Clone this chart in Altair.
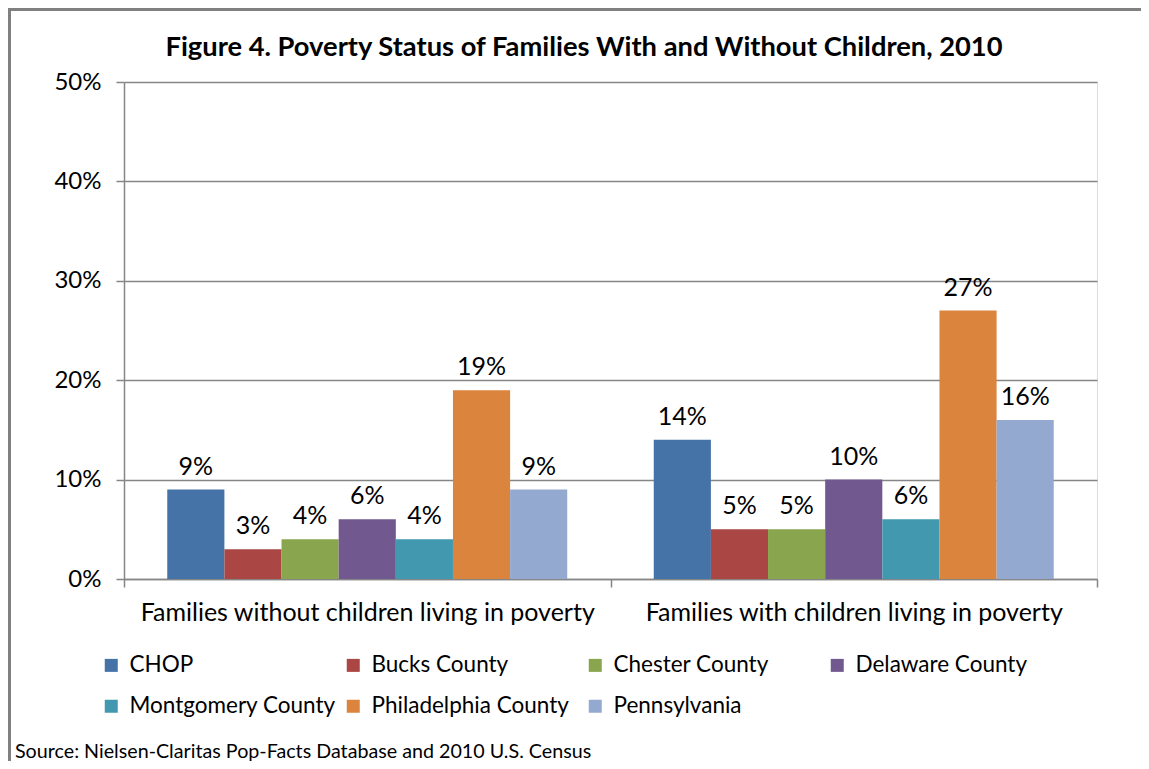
import altair as alt
import pandas as pd

groups = ["Families without children living in poverty", "Families with children living in poverty"]
series = ["CHOP", "Bucks County", "Chester County", "Delaware County",
          "Montgomery County", "Philadelphia County", "Pennsylvania"]
without_children = [0.09, 0.03, 0.04, 0.06, 0.04, 0.19, 0.09]
with_children = [0.14, 0.05, 0.05, 0.10, 0.06, 0.27, 0.16]
colors = ["#4572A7", "#AA4643", "#89A54E", "#71588F", "#4198AF", "#DB843D", "#93A9CF"]
y_ticks = [0, 0.1, 0.2, 0.3, 0.4, 0.5]
title_text = ["Figure 4. Poverty Status of Families With and Without Children, 2010"]
source_note = ["Source: Nielsen-Claritas Pop-Facts Database and 2010 U.S. Census"]

rows = []
for g, vals in zip(groups, [without_children, with_children]):
    for s, v in zip(series, vals):
        rows.append({"group": g, "series": s, "value": v})
df = pd.DataFrame(rows)

FONT = "Lato"
GRID = "#868686"

x_enc = alt.X("group:N", sort=groups,
              scale=alt.Scale(paddingInner=0, paddingOuter=0),
              axis=alt.Axis(title=None, labelAngle=0, tickBand="extent", tickSize=8,
                            tickColor=GRID, domainColor=GRID, domainWidth=1.5, tickWidth=1.5,
                            labelFont=FONT, labelFontSize=25, labelColor="black",
                            labelPadding=13, labelLimit=700))
xo_enc = alt.XOffset("series:N", sort=series,
                     scale=alt.Scale(paddingOuter=0.757, paddingInner=0))
y_enc = alt.Y("value:Q", scale=alt.Scale(domain=[0, 0.5], nice=False),
              axis=alt.Axis(title=None, values=y_ticks, format=".0%", grid=True,
                            gridColor=GRID, gridWidth=1.5, tickSize=8, tickColor=GRID,
                            tickWidth=1.5, domainColor=GRID, domainWidth=1.5,
                            labelFont=FONT, labelFontSize=24, labelColor="black",
                            labelPadding=15))

base = alt.Chart(df)

bars = base.mark_bar().encode(
    x=x_enc, xOffset=xo_enc, y=y_enc,
    color=alt.Color("series:N", sort=series,
                    scale=alt.Scale(domain=series, range=colors),
                    legend=alt.Legend(title=None, orient="none", legendX=-24, legendY=572,
                                      direction="horizontal",
                                      columns=4, symbolType="square", symbolSize=169,
                                      symbolStrokeWidth=0, labelFont=FONT, labelFontSize=22.5,
                                      labelColor="black", labelOffset=7, columnPadding=6,
                                      rowPadding=18, gridAlign="all", labelLimit=400)),
)

labels = base.mark_text(font=FONT, fontSize=25, baseline="alphabetic", dy=-15,
                        color="black").encode(
    x=x_enc, xOffset=xo_enc, y=y_enc,
    text=alt.Text("value:Q", format=".0%"),
)

title = alt.Chart(pd.DataFrame({"t": title_text})).mark_text(
    font=FONT, fontSize=27.3, fontWeight="bold", align="center", baseline="alphabetic",
    color="black"
).encode(x=alt.value(460), y=alt.value(-26), text="t:N")

src = alt.Chart(pd.DataFrame({"note": source_note})).mark_text(
    font=FONT, fontSize=19.7, align="left", baseline="alphabetic", color="black"
).encode(x=alt.value(-109), y=alt.value(676), text="note:N")

frame_df = pd.DataFrame({"k": ["frame"]})
frame_top = alt.Chart(frame_df).mark_rule(color="#808080", strokeWidth=3).encode(
    x=alt.value(-116), x2=alt.value(1030), y=alt.value(-72.5))
frame_left = alt.Chart(frame_df).mark_rule(color="#808080", strokeWidth=3).encode(
    x=alt.value(-114.5), y=alt.value(-74), y2=alt.value(700))

chart = alt.layer(bars, labels, title, src, frame_top, frame_left).properties(
    width=973, height=497,
    autosize=alt.AutoSizeParams(type="none"),
    padding={"left": 116, "top": 74, "right": 44, "bottom": 182},
).configure_view(stroke=None).configure(background="white")

chart.save("out.html", embed_options={"renderer": "svg", "actions": False})
